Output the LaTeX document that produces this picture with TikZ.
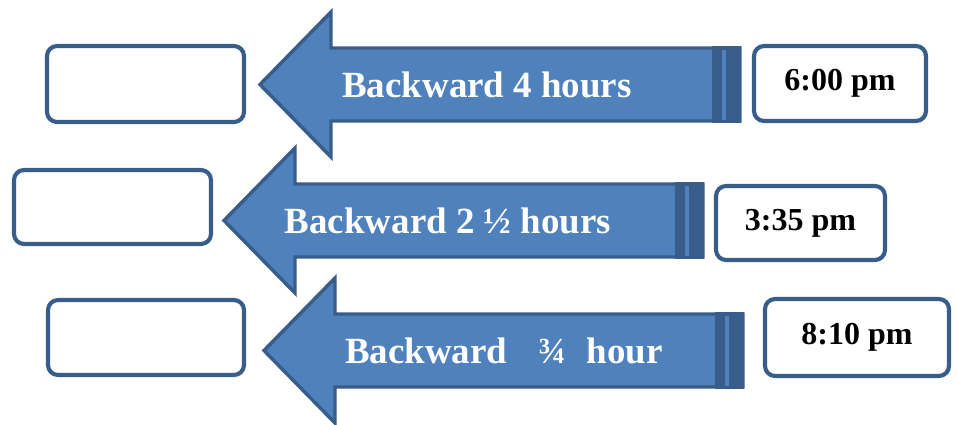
\documentclass[tikz,border=0pt]{standalone}
\usepackage{fontspec}
\setmainfont{Liberation Serif}
\definecolor{arrowblue}{HTML}{4F81BD}
\definecolor{edgeblue}{HTML}{385D8A}

\begin{document}
\begin{tikzpicture}
 [x=0.75pt,y=-0.75pt,
   arrowbody/.style={fill=arrowblue,draw=edgeblue,line width=2.6pt},
   arrowtail/.style={fill=edgeblue},
   arrowtext/.style={text=white,font=\fontsize{27.7}{30}\selectfont\bfseries,anchor=base},
   clockbox/.style={draw=edgeblue,fill=white,line width=3.1pt,rounded corners=7.5pt,inner sep=0pt},
   timetext/.style={font=\fontsize{24}{28}\selectfont\bfseries}]
  \useasboundingbox (0,0) rectangle (958,425);
  % arrows: tip x / tip y / tail x
  \foreach \tx/\ty/\rx in {260/84.5/740, 224/220.5/703, 264/350.5/743}{
    \filldraw[arrowbody] (\tx,\ty) -- (\tx+71,\ty-72.5) -- (\tx+71,\ty-36.5) -- (\rx,\ty-36.5)
      -- (\rx,\ty+36.5) -- (\tx+71,\ty+36.5) -- (\tx+71,\ty+72.5) -- cycle;
    \fill[arrowtail] (\rx-28,\ty-38.5) rectangle (\rx+0.5,\ty+38.5);
    \fill[arrowblue] (\rx-18,\ty-35) rectangle (\rx-14,\ty+35);
  }
  \node[arrowtext] (back4) at (487,97) {Backward 4 hours};
  \node[arrowtext] (back2) at (448,233) {Backward 2 ½ hours};
  \node[arrowtext] (back34) at (504,363) {Backward\hspace{0.85em}¾\hspace{0.55em}hour};
  % empty answer boxes
  \node[clockbox,minimum width=147.7pt,minimum height=57pt] (blank1) at (145.5,84) {};
  \node[clockbox,minimum width=147.7pt,minimum height=55.5pt] (blank2) at (112.5,207) {};
  \node[clockbox,minimum width=147pt,minimum height=56.2pt] (blank3) at (146,337.5) {};
  % start times
  \node[clockbox,timetext,minimum width=129pt,minimum height=56.2pt] (time1) at (840,83.5) {6:00 pm};
  \node[clockbox,timetext,minimum width=126.7pt,minimum height=55.5pt] (time2) at (800.5,223) {3:35 pm};
  \node[clockbox,timetext,minimum width=138pt,minimum height=57.7pt] (time3) at (857,337.5) {8:10 pm};
\end{tikzpicture}
\end{document}
